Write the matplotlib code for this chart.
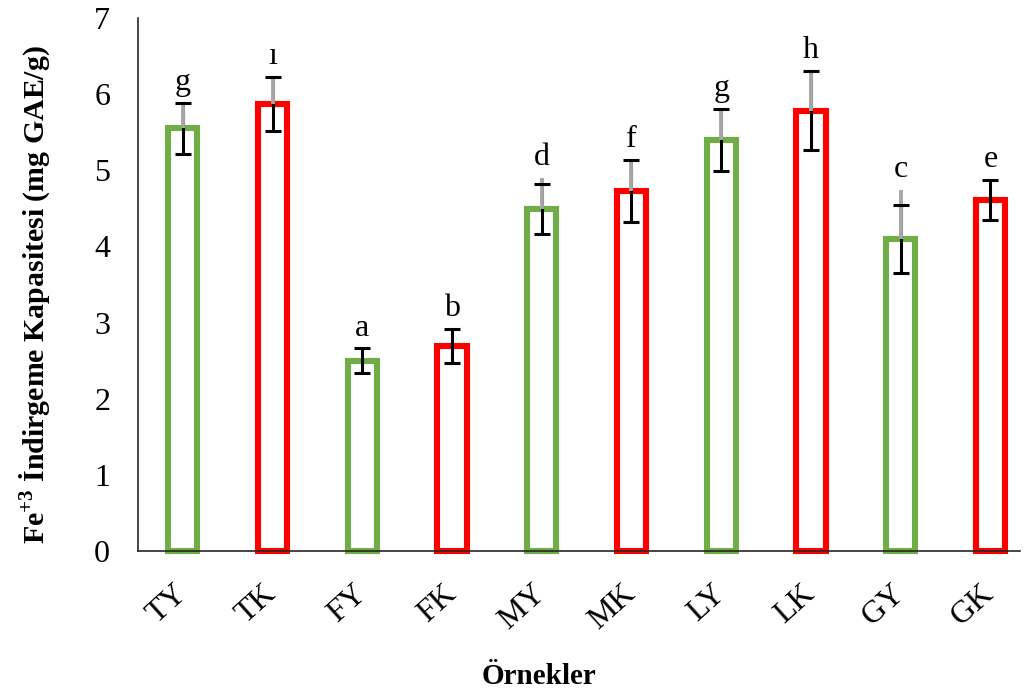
import matplotlib
matplotlib.use("Agg")
import matplotlib.pyplot as plt
import numpy as np

categories = ["TY", "TK", "FY", "FK", "MY", "MK", "LY", "LK", "GY", "GK"]
values = [5.55, 5.87, 2.50, 2.69, 4.49, 4.73, 5.40, 5.78, 4.10, 4.61]
errors = [0.34, 0.36, 0.16, 0.22, 0.33, 0.41, 0.41, 0.52, 0.45, 0.26]
grey_errors = [0.34, 0.36, 0.0, 0.0, 0.41, 0.41, 0.41, 0.52, 0.64, 0.0]
letters = ["g", "ı", "a", "b", "d", "f", "g", "h", "c", "e"]
edge_colors = ["#70AD47", "#FF0000"] * 5

plt.rcParams['font.family'] = ['Liberation Serif', 'DejaVu Serif']
plt.rcParams['mathtext.fontset'] = 'custom'
plt.rcParams['mathtext.rm'] = 'Liberation Serif'
plt.rcParams['mathtext.bf'] = 'Liberation Serif:bold'

fig = plt.figure(figsize=(10.29, 6.95), dpi=100)
ax = fig.add_axes([138/1029, 1-551/695, (1020-138)/1029, (551-18)/695])

x = np.arange(len(categories))
bars = ax.bar(x, values, width=0.325, color="white", edgecolor=edge_colors,
              linewidth=4.4, zorder=2)
for b in bars:
    b.set_clip_on(False)

eb = ax.errorbar(x, values, yerr=errors, fmt="none", ecolor="black",
                 elinewidth=2.2, capsize=5.5, capthick=2.2, zorder=3)
for cl in eb[1]:
    cl.set_zorder(5)

for xi, v, g in zip(x, values, grey_errors):
    if g > 0:
        ax.plot([xi, xi], [v, v + g], color="#A6A6A6", lw=2.8, zorder=4,
                solid_capstyle="butt")

for xi, v, e, g, t in zip(x, values, errors, grey_errors, letters):
    top = v + max(e, g)
    ax.text(xi, top + 0.17, t, ha="center", va="baseline", fontsize=23, zorder=6)

ax.set_xlim(-0.5, 9.33)
ax.set_ylim(0, 7)
ax.set_yticks(range(0, 8))
ax.set_yticklabels([str(i) for i in range(0, 8)], fontsize=23)
ax.set_xticks(x)
ax.set_xticklabels(categories, fontsize=23, rotation=42, ha="right",
                   va="center", rotation_mode="anchor")
ax.tick_params(axis="both", length=0)
ax.tick_params(axis="y", pad=20)
ax.tick_params(axis="x", pad=28)
for s in ["top", "right"]:
    ax.spines[s].set_visible(False)
ax.spines["left"].set_linewidth(1.2)
ax.spines["bottom"].set_linewidth(1.2)
ax.spines["left"].set_color("#262626")
ax.spines["bottom"].set_color("#262626")

fig.text(539/1029, 1-676/695, "Örnekler", ha="center", va="center",
         fontsize=21, fontweight="bold")
fig.text(36/1029, 1-295/695,
         r"Fe$^{\mathbf{+3}}$ İndirgeme Kapasitesi (mg GAE/g)",
         ha="center", va="center", rotation=90, fontsize=21.5, fontweight="bold")

fig.savefig("out.png", dpi=100)
